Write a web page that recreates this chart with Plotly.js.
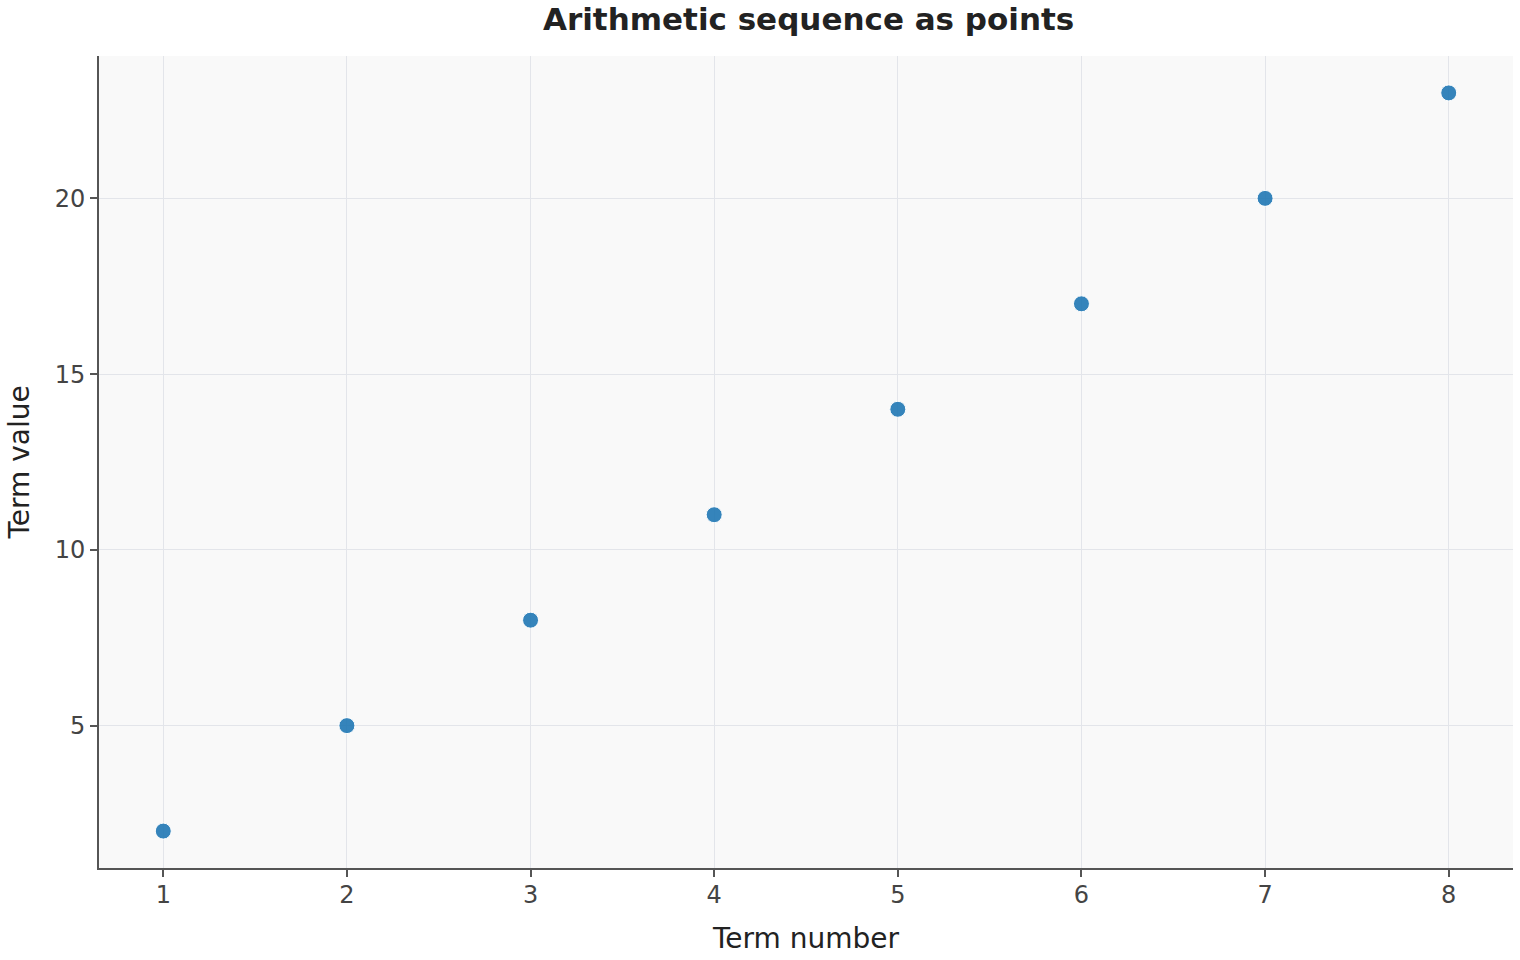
<!DOCTYPE html>
<html>
<head>
<meta charset="utf-8">
<script src="https://cdn.plot.ly/plotly-3.0.1.min.js"></script>
<style>html,body{margin:0;padding:0;background:#fff;}#chart{width:1520px;height:960px;}</style>
</head>
<body>
<div id="chart"></div>
<script>
const termNumbers = [1, 2, 3, 4, 5, 6, 7, 8];
const termValues = [2, 5, 8, 11, 14, 17, 20, 23];
const xTicks = [1, 2, 3, 4, 5, 6, 7, 8];
const yTicks = [5, 10, 15, 20];

const trace = {
  x: termNumbers,
  y: termValues,
  type: 'scatter',
  mode: 'markers',
  marker: {size: 16, color: 'rgba(31,119,180,0.9)', line: {color: '#ffffff', width: 1}},
  hoverinfo: 'x+y'
};

const axisCommon = {
  showline: true, linecolor: '#555555', linewidth: 2,
  ticks: 'outside', ticklen: 7, tickwidth: 2, tickcolor: '#555555',
  showgrid: true, gridcolor: '#e3e5ea', gridwidth: 1,
  zeroline: false,
  tickfont: {family: 'DejaVu Sans', size: 24, color: '#444444'},
  mirror: false
};

const layout = {
  width: 1520, height: 960,
  paper_bgcolor: '#ffffff', plot_bgcolor: '#f9f9f9',
  margin: {l: 99, r: 7, t: 56, b: 92},
  title: {text: '<b>Arithmetic sequence as points</b>', x: 0.532, xanchor: 'center', y: 0.98, yanchor: 'middle',
          font: {family: 'DejaVu Sans', size: 31, color: '#222222'}},
  xaxis: Object.assign({}, axisCommon, {
    range: [0.65, 8.35], tickvals: xTicks, ticktext: xTicks.map(String),
    ticklabelstandoff: -3,
    title: {text: 'Term number', font: {family: 'DejaVu Sans', size: 28, color: '#222222'}, standoff: 21}
  }),
  yaxis: Object.assign({}, axisCommon, {
    range: [0.95, 24.05], tickvals: yTicks, ticktext: yTicks.map(String),
    title: {text: 'Term value', font: {family: 'DejaVu Sans', size: 28, color: '#222222'}, standoff: 17}
  }),
  showlegend: false
};

Plotly.newPlot('chart', [trace], layout, {displayModeBar: false, responsive: false});
</script>
</body>
</html>
